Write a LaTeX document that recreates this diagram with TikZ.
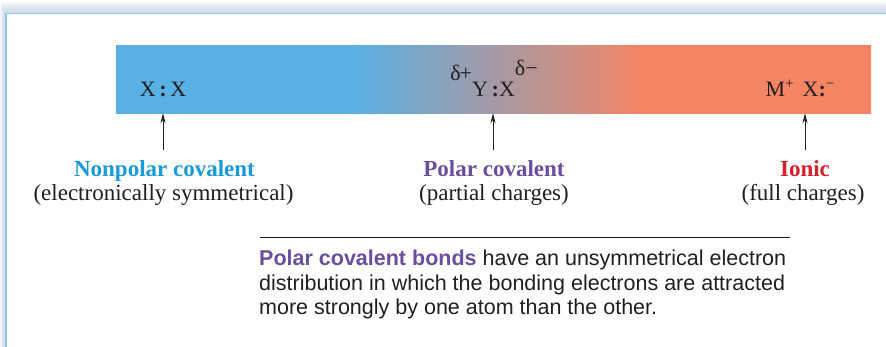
\documentclass[tikz,border=0pt]{standalone}
\usepackage{fontspec}
\setmainfont{Liberation Serif}
\setsansfont{Liberation Sans}
\usetikzlibrary{positioning, arrows.meta}

\definecolor{barblue}{HTML}{59B0E3}
\definecolor{barsalmon}{HTML}{F38464}
\definecolor{npcyan}{HTML}{1A9BD7}
\definecolor{polpurple}{HTML}{6B4F9F}
\definecolor{ionred}{HTML}{D6202F}
\definecolor{frameblue}{HTML}{8FC6EC}
\definecolor{glowgray}{HTML}{B8C3DD}
\definecolor{inkgray}{HTML}{231F20}

\pgfdeclarehorizontalshading{bondbar}{100bp}{color(0bp)=(barblue); color(40.8bp)=(barblue); color(59.7bp)=(barsalmon); color(100bp)=(barsalmon)}

\begin{document}
\begin{tikzpicture}[x=1pt, y=-1pt,
          formula/.style={anchor=base, inner sep=0pt, text=inkgray, font=\fontsize{22}{26}\selectfont},
          kind/.style={anchor=base, inner sep=0pt, font=\fontsize{23}{27}\selectfont\bfseries},
          note/.style={anchor=base, inner sep=0pt, text=inkgray, font=\fontsize{23}{27}\selectfont},
          para/.style={anchor=north west, inner sep=0pt, align=left, text=inkgray, font=\fontsize{21.5}{24.5}\selectfont\sffamily},
          bondarrow/.style={-{Stealth[length=10pt, width=5pt]}, line width=0.9pt, inkgray}
      ]
      
      \useasboundingbox (0,0) rectangle (886,346);
      
      % panel with its soft shadow
      \foreach \i in {1,...,12} {
          \fill[glowgray, opacity=0.09] (6-\i/2, 13.5-\i) rectangle (900,360);
      }
      \fill[white] (6,13.5) rectangle (900,360);
      \draw[frameblue, line width=1.2pt] (6,360) -- (6,13.5) -- (900,13.5);
      
      \node[shading=bondbar, minimum width=755pt, minimum height=68pt, inner sep=0pt] (bar) at (493.5,79) {};
      
      \node[formula] (npbond) at (163,96) {X\,{\bfseries:}\,X};
      \node[formula] (pcbond) at (494,96) {\raisebox{16pt}{δ\kern-1pt+}Y\,{\bfseries:}X\raisebox{21pt}{δ−}};
      \node[formula] (iobond) at (800,96) {M\raisebox{8pt}{\fontsize{15}{18}\selectfont +}\hspace{9pt}X{\bfseries:}\raisebox{8pt}{\fontsize{15}{18}\selectfont −}};
      
      \foreach \n/\x in {np/163, pc/493, io/805} {
          \coordinate (\n foot) at (\x,150);
          \draw[bondarrow] (\n foot) -- (\n foot |- bar.south);
      }
      
      \node[kind, text=npcyan] (nonpolar) at (164.5,176) {Nonpolar covalent};
      \node[note] (nonpolarnote) at (163.5,200) {(electronically symmetrical)};
      
      \node[kind, text=polpurple] (polar) at (494,176) {Polar covalent};
      \node[note] (polarnote) at (494,200) {(partial charges)};
      
      \node[kind, text=ionred] (ionic) at (805,176) {Ionic};
      \node[note] (ionicnote) at (803,200) {(full charges)};
      
      \coordinate (rulel) at (260,237);
      \coordinate (ruler) at (790,237);
      \draw[inkgray, line width=1pt] (rulel) -- (ruler);
      
      \node[para] (summary) at (259,250) {\textcolor{polpurple}{\bfseries Polar covalent bonds} have an unsymmetrical electron\\
          distribution in which the bonding electrons are attracted\\
          more strongly by one atom than the other.};
      
\end{tikzpicture}
\end{document}
